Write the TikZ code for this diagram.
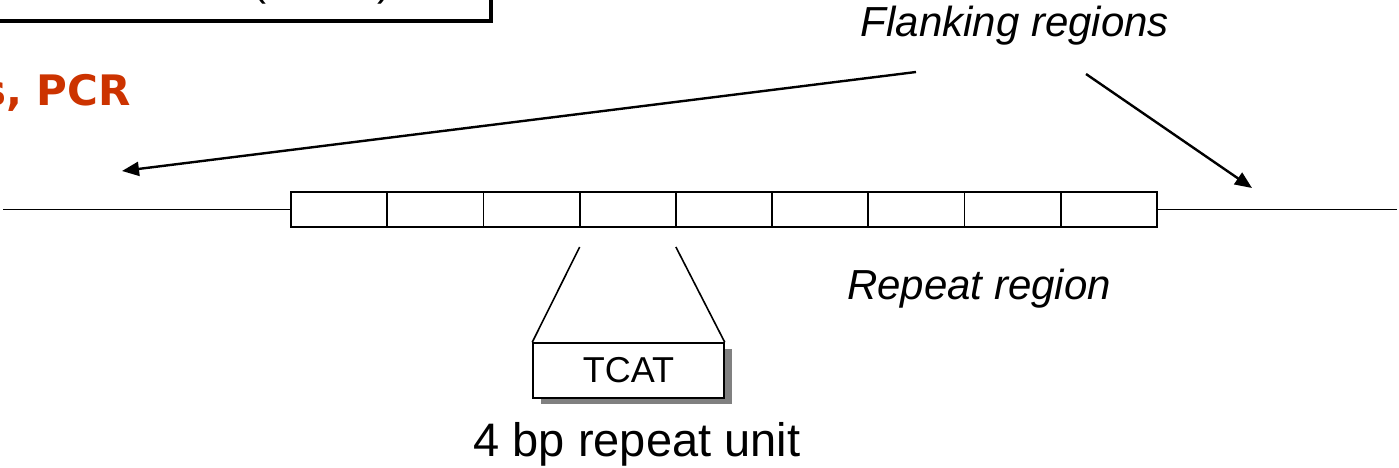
\documentclass[tikz,border=0pt]{standalone}
\usepackage{fontspec}
\setmainfont{Liberation Sans}
\newfontfamily\pcrfont{DejaVu Sans}
\usetikzlibrary{arrows.meta}
\definecolor{pcrred}{RGB}{204,51,0}
\definecolor{shadowgray}{RGB}{128,128,128}
\tikzset{
  cell/.style={draw, line width=1.8pt, minimum width=96.22pt, minimum height=35pt, inner sep=0pt, outer sep=0pt},
  unitbox/.style={draw, line width=1.5pt, fill=white, minimum width=191pt, minimum height=55pt, inner sep=0pt,
    font=\fontsize{36}{42}\selectfont},
  lbl/.style={font=\fontsize{42}{50}\selectfont\itshape, inner sep=0pt},
  thinline/.style={line width=1.6pt},
  arr/.style={line width=2.4pt, -{Triangle[length=17pt,width=14pt]}},
}
\begin{document}
\begin{tikzpicture}[x=1pt,y=-1pt]
\useasboundingbox (0,0) rectangle (1399,468);
% partially visible box at top left
\draw[line width=4pt] (-30,-60) rectangle (491,21);
\node[anchor=base, inner sep=0pt, font=\fontsize{42}{50}\selectfont] (lp) at (259,-4) {(};
\node[anchor=base, inner sep=0pt, font=\fontsize{42}{50}\selectfont] (rp) at (384,-4) {)};
% PCR text
\node[anchor=base east, inner sep=0pt, text=pcrred, font=\fontsize{42}{50}\selectfont\pcrfont\bfseries] (pcr) at (131,106) {s, PCR};
% repeat cells
\foreach \i in {1,...,9}
  \node[cell] (c\i) at ({291+96.22*(\i-0.5)},209.5) {};
\coordinate (lend) at (3,209.5);
\coordinate (rend) at (1397,209.5);
\draw[thinline] (lend) -- (c1.west);
\draw[thinline] (c9.east) -- (rend);
% TCAT unit
\fill[shadowgray] (534.5+6,343+6) rectangle (725.5+6,398+6);
\node[unitbox] (tcat) at (628.5,370.5) {TCAT};
\draw[thinline] ([yshift=-20pt]c4.south west) -- (tcat.north west);
\draw[thinline] ([yshift=-20pt]c4.south east) -- (tcat.north east);
\node[anchor=base, inner sep=0pt, font=\fontsize{47}{54}\selectfont] (unitlbl) at (637,456) {4 bp repeat unit};
% labels
\node[lbl, anchor=base] (rr) at (979,299) {Repeat region};
\node[lbl, anchor=base] (fr) at (1015,37) {Flanking regions};
\coordinate (fa) at (916,72);
\coordinate (fb) at (1086,74);
\coordinate (la) at (122,171);
\coordinate (ra) at (1252,188);
\draw[arr] (fa) -- (la);
\draw[arr] (fb) -- (ra);
\end{tikzpicture}
\end{document}
